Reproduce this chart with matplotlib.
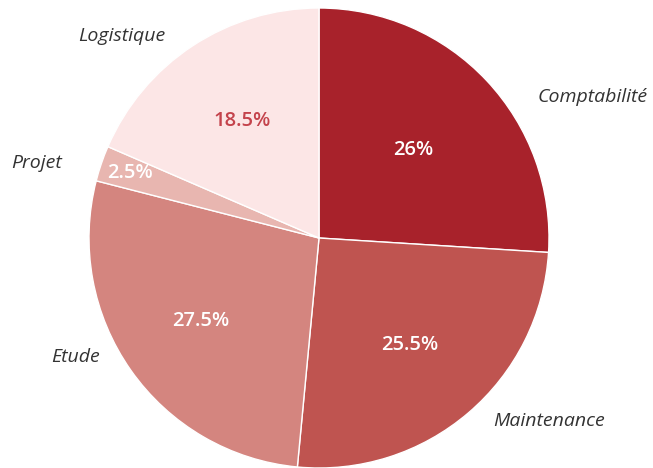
import numpy as np
import matplotlib
matplotlib.use('Agg')
from matplotlib import pyplot as plt

# Data
services = ['Comptabilité', 'Maintenance', 'Etude', 'Projet', 'Logistique']
parts = [26, 25.5, 27.5, 2.5, 18.5]
colors = ['#a8222b', '#bf5450', '#d4857f', '#e8b6b0', '#fce6e6']
pct_colors = ['white', 'white', 'white', 'white', '#c4434c']

# label layout (radius factor, angle shift in degrees)
pct_radius = [0.56, 0.61, 0.63, 0.87, 0.61]
lab_radius = [1.34, 1.28, 1.18, 1.27, 1.23]
lab_shift = [-16, 11, -9, 4, 11]

plt.rcParams['font.family'] = ['Open Sans', 'DejaVu Sans']

fig = plt.figure(figsize=(6.53, 4.68), dpi=100)
ax = fig.add_axes([0, 0, 1, 1])

R = 230
cx, cy = 319, 230
wedges, _ = ax.pie(parts, colors=colors, startangle=90, counterclock=False,
                   radius=R, center=(cx, cy),
                   wedgeprops=dict(edgecolor='white', linewidth=1))

for i, w in enumerate(wedges):
    mid = np.deg2rad((w.theta1 + w.theta2) / 2)
    ax.text(cx + pct_radius[i] * R * np.cos(mid), cy + pct_radius[i] * R * np.sin(mid),
            '%g%%' % parts[i], ha='center', va='center', fontsize=14.5,
            fontweight='semibold', color=pct_colors[i])
    a = mid + np.deg2rad(lab_shift[i])
    ax.text(cx + lab_radius[i] * R * np.cos(a), cy + lab_radius[i] * R * np.sin(a),
            services[i], ha='center', va='center', fontsize=14,
            style='italic', color='#333333')

ax.set_xlim(0, 653)
ax.set_ylim(0, 468)
ax.set_aspect('equal')
ax.axis('off')

fig.savefig('out.png', dpi=100)
